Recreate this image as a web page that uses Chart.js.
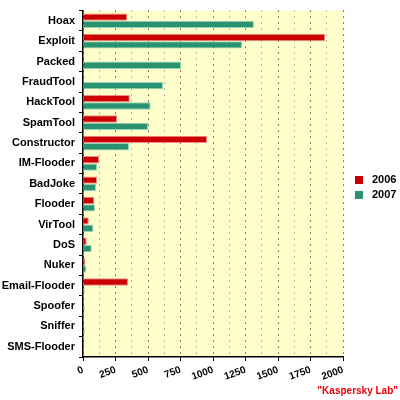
<!DOCTYPE html>
<html>
<head>
<meta charset="utf-8">
<script src="https://cdn.jsdelivr.net/npm/chart.js@4"></script>
<style>
  html, body { margin: 0; padding: 0; background: #fff; }
  #wrap { width: 400px; height: 400px; }
</style>
</head>
<body>
<div id="wrap"><canvas id="malwareChart" width="400" height="400"></canvas></div>
<script>
var categories = ['Hoax', 'Exploit', 'Packed', 'FraudTool', 'HackTool', 'SpamTool', 'Constructor',
  'IM-Flooder', 'BadJoke', 'Flooder', 'VirTool', 'DoS', 'Nuker', 'Email-Flooder', 'Spoofer',
  'Sniffer', 'SMS-Flooder'];
var values2006 = [340, 1862, 5, 5, 360, 262, 954, 125, 108, 87, 44, 28, 18, 346, 6, 6, 10];
var values2007 = [1315, 1223, 754, 615, 520, 500, 354, 108, 100, 92, 80, 67, 25, 13, 13, 13, 8];
var seriesLabels = ['2006', '2007'];

var fontFamily = '"Liberation Sans", Arial, sans-serif';

// yellow plot background + legend + source note
var decorPlugin = {
  id: 'decor',
  beforeDraw: function(chart) {
    var a = chart.chartArea, ctx = chart.ctx;
    ctx.save();
    ctx.fillStyle = '#ffffcc';
    ctx.fillRect(a.left, a.top, a.right - a.left, a.bottom - a.top);
    ctx.restore();
  },
  afterDraw: function(chart) {
    var ctx = chart.ctx;
    ctx.save();
    ctx.font = 'bold 11px ' + fontFamily;
    ctx.textBaseline = 'middle';
    chart.data.datasets.forEach(function(ds, i) {
      var y = 180 + i * 15;
      ctx.fillStyle = ds.backgroundColor;
      ctx.fillRect(355, y - 4, 8, 8);
      ctx.fillStyle = '#000';
      ctx.fillText(ds.label, 372, y);
    });
    ctx.font = 'bold 10px ' + fontFamily;
    ctx.fillStyle = '#e8000b';
    ctx.textAlign = 'right';
    ctx.fillText('"Kaspersky Lab"', 398, 391);
    ctx.restore();
  }
};

var ctx = document.getElementById('malwareChart').getContext('2d');
var malwareChart = new Chart(ctx, {
  type: 'bar',
  data: {
    labels: categories,
    datasets: [{
      label: seriesLabels[0],
      data: values2006,
      backgroundColor: '#cc0000',
      borderColor: '#f28a8a',
      borderWidth: 1,
      borderSkipped: 'left'
    }, {
      label: seriesLabels[1],
      data: values2007,
      backgroundColor: '#2a9271',
      borderColor: '#93d6b8',
      borderWidth: 1,
      borderSkipped: 'left'
    }]
  },
  options: {
    indexAxis: 'y',
    responsive: false,
    animation: false,
    layout: { padding: { top: 8, right: 57, left: 0, bottom: 0 } },
    datasets: { bar: { categoryPercentage: 0.72, barPercentage: 1.0 } },
    plugins: {
      legend: { display: false },
      tooltip: { enabled: false }
    },
    scales: {
      x: {
        min: 0,
        max: 2000,
        afterFit: function(scale) { scale.height = 43; },
        border: { display: true, color: '#000', width: 1.5, dash: [1, 5] },
        grid: {
          color: function(c) { return c.tick && c.tick.value % 250 ? '#777' : '#000'; },
          tickColor: function(c) { return c.tick && c.tick.value % 250 ? 'rgba(0,0,0,0)' : '#000'; },
          lineWidth: 1,
          tickLength: 4
        },
        ticks: {
          stepSize: 125,
          autoSkip: false,
          minRotation: 20,
          maxRotation: 20,
          color: '#000',
          font: { family: fontFamily, size: 10, weight: 'bold' },
          callback: function(v) { return v % 250 === 0 ? v : ''; }
        }
      },
      y: {
        afterFit: function(scale) { scale.width = 83; },
        border: { display: true, color: '#000', width: 1.5 },
        grid: {
          offset: true,
          drawOnChartArea: false,
          tickLength: 4,
          tickColor: '#000'
        },
        ticks: {
          color: '#000',
          padding: 4,
          font: { family: fontFamily, size: 11, weight: 'bold' }
        }
      }
    }
  },
  plugins: [decorPlugin]
});
</script>
</body>
</html>
